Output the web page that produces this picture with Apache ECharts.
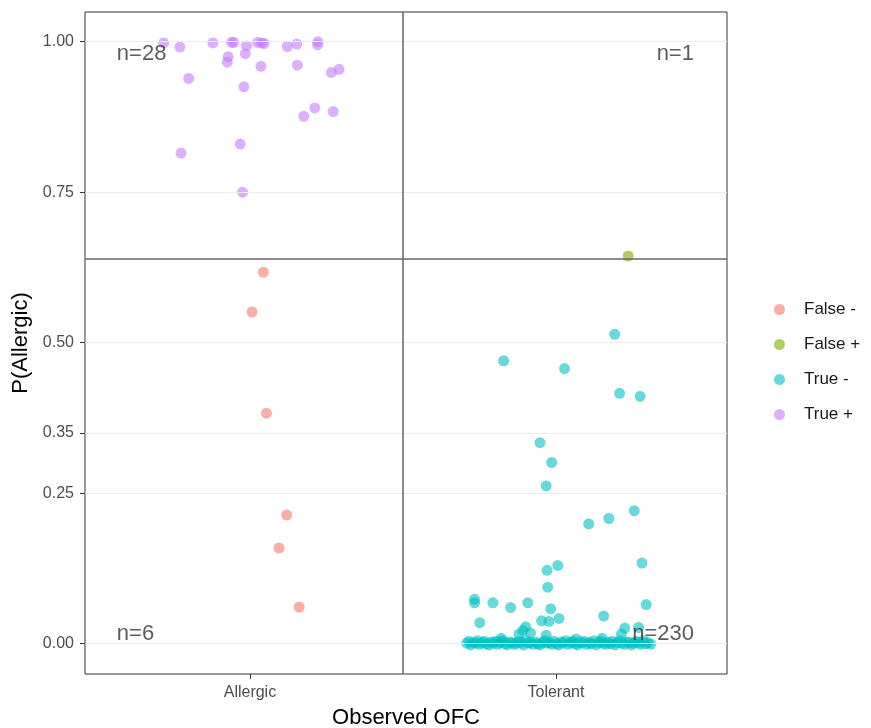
<!DOCTYPE html>
<html>
<head>
<meta charset="utf-8">
<script src="https://cdn.jsdelivr.net/npm/echarts@6/dist/echarts.min.js"></script>
<style>
  html, body { margin: 0; padding: 0; background: #fff; }
  #chart { width: 871px; height: 728px; }
</style>
</head>
<body>
<div id="chart"></div>
<script>
// categories on the x axis (1 = Allergic, 2 = Tolerant)
const categories = ['Allergic', 'Tolerant'];
const xTicks = [1, 2];
const yTicks = [0, 0.25, 0.35, 0.5, 0.75, 1.0];
const cutoff = 0.6426;

// jittered points, [x, P(Allergic)]
const truePos = [
  [0.718, 0.998], [0.771, 0.991], [0.879, 0.998], [0.940, 0.999], [0.947, 0.999],
  [0.989, 0.993], [1.025, 0.999], [1.038, 0.998], [1.046, 0.997], [1.122, 0.992],
  [1.153, 0.996], [1.222, 1.000], [1.221, 0.995], [0.929, 0.975], [0.926, 0.966],
  [0.985, 0.980], [0.800, 0.939], [1.036, 0.959], [1.155, 0.961], [1.266, 0.949],
  [1.291, 0.954], [0.980, 0.925], [1.212, 0.890], [1.176, 0.876], [1.272, 0.884],
  [0.775, 0.815], [0.968, 0.830], [0.976, 0.750]
];
const falseNeg = [
  [1.044, 0.617], [1.007, 0.551], [1.054, 0.383], [1.120, 0.214], [1.095, 0.159], [1.161, 0.061]
];
const falsePos = [[2.236, 0.644]];
const trueNegHigh = [
  [2.192, 0.514], [1.829, 0.470], [2.028, 0.457], [2.208, 0.416], [2.275, 0.411],
  [1.948, 0.334], [1.986, 0.301], [1.968, 0.262], [2.107, 0.199], [2.173, 0.208],
  [2.256, 0.221], [1.971, 0.122], [2.006, 0.130], [1.973, 0.094], [2.281, 0.134],
  [1.734, 0.074], [1.734, 0.068], [1.794, 0.068], [1.852, 0.060], [1.908, 0.068],
  [1.983, 0.058], [2.295, 0.065], [1.751, 0.035], [1.953, 0.038], [1.977, 0.037],
  [2.010, 0.042], [2.156, 0.046], [1.901, 0.028], [1.892, 0.022], [1.879, 0.016],
  [1.917, 0.018], [1.968, 0.014], [2.225, 0.026], [2.214, 0.016], [2.270, 0.027],
  [1.821, 0.009], [2.151, 0.009], [2.066, 0.008]
];
// the dense band of Tolerant points sitting at ~0
const trueNegZeroX = [
  1.708, 1.715, 1.722, 1.729, 1.738, 1.744, 1.750, 1.759, 1.766, 1.772,
  1.781, 1.788, 1.795, 1.803, 1.809, 1.818, 1.826, 1.833, 1.841, 1.847,
  1.856, 1.864, 1.870, 1.879, 1.887, 1.894, 1.902, 1.909, 1.917, 1.925,
  1.932, 1.940, 1.948, 1.955, 1.963, 1.971, 1.978, 1.986, 1.994, 2.001,
  2.009, 2.017, 2.024, 2.032, 2.040, 2.047, 2.055, 2.063, 2.070, 2.078,
  2.086, 2.093, 2.101, 2.109, 2.116, 2.124, 2.132, 2.139, 2.147, 2.155,
  2.162, 2.170, 2.178, 2.185, 2.193, 2.201, 2.208, 2.216, 2.224, 2.231,
  2.239, 2.247, 2.254, 2.262, 2.270, 2.277, 2.285, 2.293, 2.301, 2.310
];
const trueNegZeroY = [
  0.001, 0.004, -0.002, 0.002, 0.001, 0.005, -0.001, 0.002, 0.004, 0.000,
  -0.002, 0.003, 0.001, 0.004, -0.001, 0.002, 0.005, 0.000, -0.002, 0.003,
  0.002, -0.001, 0.001, 0.004, 0.002, -0.002, 0.005, 0.001, 0.002, -0.001,
  0.003, 0.000, -0.002, 0.002, 0.005, 0.001, 0.002, -0.001, 0.004, 0.000,
  -0.002, 0.003, 0.001, 0.005, -0.001, 0.002, 0.004, 0.000, -0.002, 0.003,
  0.001, 0.004, -0.001, 0.002, 0.000, 0.005, -0.002, 0.002, 0.004, 0.001,
  -0.001, 0.003, 0.000, 0.004, -0.002, 0.002, 0.005, 0.001, -0.001, 0.003,
  0.002, -0.002, 0.001, 0.004, 0.002, -0.001, 0.005, 0.000, 0.002, -0.001
];
// count annotations in each quadrant
const annotations = [
  { x: 0.565, y: 0.980, text: 'n=28', align: 'left' },
  { x: 2.451, y: 0.980, text: 'n=1', align: 'right' },
  { x: 0.565, y: 0.0166, text: 'n=6', align: 'left' },
  { x: 2.451, y: 0.0166, text: 'n=230', align: 'right' }
];

const FONT = '"Liberation Sans", Arial, sans-serif';
const trueNeg = trueNegZeroX.map((x, i) => [x, trueNegZeroY[i]]).concat(trueNegHigh);

const chart = echarts.init(document.getElementById('chart'));

function pointSeries(name, color, data) {
  return {
    name: name,
    type: 'scatter',
    data: data,
    symbol: 'circle',
    symbolSize: 11,
    z: 3,
    itemStyle: { color: color, opacity: 0.6 },
    emphasis: { disabled: true }
  };
}

chart.setOption({
  animation: false,
  textStyle: { fontFamily: FONT },
  grid: {
    left: 85, right: 144, top: 12, bottom: 54,
    outerBoundsMode: 'none',
    show: true, borderColor: '#333', borderWidth: 1, backgroundColor: '#fff'
  },
  legend: {
    orient: 'vertical',
    left: 769, top: 296,
    icon: 'circle',
    itemWidth: 11, itemHeight: 11, itemGap: 18,
    textStyle: { fontSize: 17, color: '#1a1a1a', fontFamily: FONT, padding: [0, 0, 0, 14] },
    data: ['False -', 'False +', 'True -', 'True +']
  },
  xAxis: {
    type: 'value',
    min: 0.461, max: 2.559,
    name: 'Observed OFC',
    nameLocation: 'middle',
    nameGap: 33,
    nameTextStyle: { fontSize: 22, color: '#000', fontFamily: FONT },
    axisLine: { show: false, onZero: false },
    splitLine: { show: false },
    axisTick: { show: true, customValues: xTicks, length: 5, lineStyle: { color: '#333' } },
    axisLabel: {
      customValues: xTicks,
      fontSize: 16, color: '#4d4d4d', margin: 11,
      formatter: v => categories[Math.round(v) - 1]
    }
  },
  yAxis: {
    type: 'value',
    min: -0.0503, max: 1.0493,
    name: 'P(Allergic)',
    nameLocation: 'middle',
    nameGap: 52,
    nameTextStyle: { fontSize: 22, color: '#000', fontFamily: FONT },
    axisLine: { show: false, onZero: false },
    splitLine: { show: false },
    axisTick: { show: true, customValues: yTicks, length: 5, lineStyle: { color: '#333' } },
    axisLabel: {
      customValues: yTicks,
      fontSize: 16, color: '#4d4d4d', margin: 11,
      formatter: v => v.toFixed(2)
    }
  },
  series: [
    {
      // light horizontal gridlines at tick values
      type: 'scatter',
      data: [],
      z: 1,
      silent: true,
      markLine: {
        silent: true, symbol: 'none', label: { show: false },
        lineStyle: { color: '#ebebeb', width: 1.2, type: 'solid' },
        data: yTicks.map(v => ({ yAxis: v }))
      }
    },
    {
      // quadrant dividers
      type: 'scatter',
      data: [],
      z: 2,
      silent: true,
      markLine: {
        silent: true, symbol: 'none', label: { show: false },
        lineStyle: { color: '#666', width: 1.5, type: 'solid' },
        data: [{ xAxis: 1.5 }, { yAxis: cutoff }]
      }
    },
    pointSeries('False -', '#F8766D', falseNeg),
    pointSeries('False +', '#7CAE00', falsePos),
    pointSeries('True -', '#00BFC4', trueNeg),
    pointSeries('True +', '#C77CFF', truePos),
    {
      type: 'scatter',
      symbolSize: 0,
      z: 5,
      silent: true,
      data: annotations.map(a => ({
        value: [a.x, a.y],
        label: {
          show: true, formatter: a.text, position: 'inside',
          align: a.align, verticalAlign: 'middle',
          fontSize: 22, color: '#333', fontFamily: FONT
        }
      }))
    }
  ]
});
</script>
</body>
</html>
